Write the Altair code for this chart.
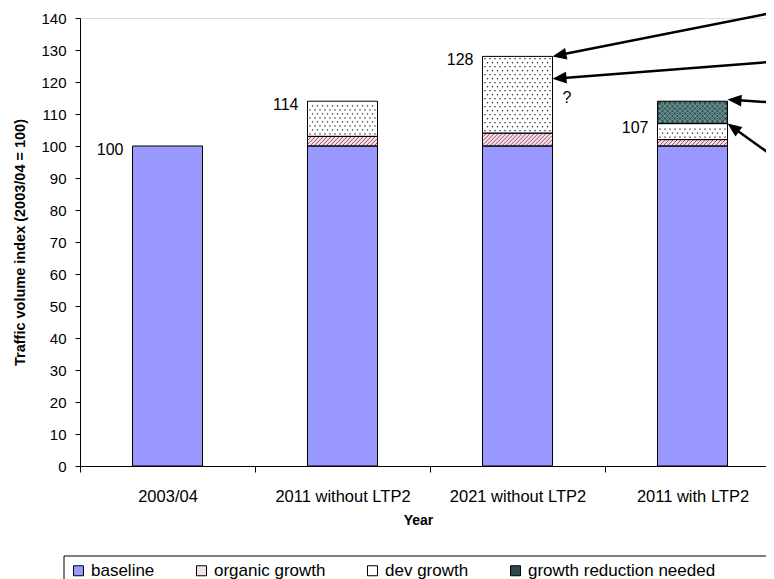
import json
import math
import altair as alt
import pandas as pd

# ---------------- data ----------------
categories = ["2003/04", "2011 without LTP2", "2021 without LTP2", "2011 with LTP2"]
series = ["baseline", "organic growth", "dev growth", "growth reduction needed"]
baseline = [100, 100, 100, 100]
organic_growth = [0, 3, 4, 2]
dev_growth = [0, 11, 24, 5]
growth_reduction = [0, 0, 0, 7]
total_labels = ["100", "114", "128", "107"]
label_values = [100, 114, 128, 107]
y_ticks = list(range(0, 141, 10))

# annotation arrows: bar they point at, value at tip, value where they enter from the right
arrow_bar = [2, 2, 3, 3]
arrow_tip = [128, 121, 114.5, 107]
arrow_start = [143.4, 127, 113, 90.6]
question_bar = 2
question_value = 115

# ---------------- layout ----------------
FONT = "Liberation Sans"
PX_CAT = 175.0
W, H = 686, 448
YMAX = 140
PX_Y = H / YMAX
XMAX = W / PX_CAT
HALF = 0.2
ARROW_X0 = 4.12

colors = ["#9999FF", "#F6E4EC", "#FFFFFF", "#2E4A4A"]

# stacked segments
rows = []
for i, cat in enumerate(categories):
    cum = 0
    for s, vals in zip(series, [baseline, organic_growth, dev_growth, growth_reduction]):
        v = vals[i]
        if v > 0:
            rows.append(dict(category=cat, series=s, x0=i + 0.5 - HALF, x1=i + 0.5 + HALF,
                             y0=cum, y1=cum + v))
            cum += v
seg = pd.DataFrame(rows)

# textures (derived from segment extents)
dots, rings, hatch = [], [], []
for r in rows:
    X0, X1 = r["x0"] * PX_CAT, r["x1"] * PX_CAT
    Y0, Y1 = r["y0"] * PX_Y, r["y1"] * PX_Y
    if r["series"] == "dev growth":
        k = 0
        y = Y0 + 2.5
        while y < Y1 - 1.5:
            x = X0 + 2.5 + (2.5 if k % 2 else 0)
            while x < X1 - 1.5:
                dots.append(dict(x=x / PX_CAT, y=y / PX_Y))
                x += 5
            y += 4
            k += 1
    elif r["series"] == "growth reduction needed":
        k = 0
        y = Y0 + 2.5
        while y < Y1 - 1.5:
            x = X0 + 2.5 + (2.5 if k % 2 else 0)
            while x < X1 - 1.5:
                rings.append(dict(x=x / PX_CAT, y=y / PX_Y))
                x += 5
            y += 2.5
            k += 1
    elif r["series"] == "organic growth":
        c = X0 - Y1
        while c < X1 - Y0:
            ylo = max(Y0 + 0.5, X0 + 0.5 - c)
            yhi = min(Y1 - 0.5, X1 - 0.5 - c)
            if yhi > ylo:
                hatch.append(dict(x=(ylo + c) / PX_CAT, y=ylo / PX_Y,
                                  x2=(yhi + c) / PX_CAT, y2=yhi / PX_Y))
            c += 4
dots = pd.DataFrame(dots)
rings = pd.DataFrame(rings)
hatch = pd.DataFrame(hatch)

# arrows
arr = []
for b, tv, sv in zip(arrow_bar, arrow_tip, arrow_start):
    tx, ty = (b + 0.5 + HALF) * PX_CAT, H - tv * PX_Y
    sx, sy = ARROW_X0 * PX_CAT, H - sv * PX_Y
    d = math.atan2(ty - sy, tx - sx)
    ang = (math.degrees(d) - 180) % 360
    ex, ey = tx - 8 * math.cos(d), ty - 8 * math.sin(d)
    arr.append(dict(tx=tx / PX_CAT, ty=tv, sx=ARROW_X0, sy=sv,
                    ex=ex / PX_CAT, ey=(H - ey) / PX_Y, angle=ang))
arr = pd.DataFrame(arr)

labels = pd.DataFrame(dict(x=[i + 0.5 - HALF for i in range(len(categories))],
                           y=label_values, text=total_labels))
qmark = pd.DataFrame(dict(x=[question_bar + 0.5 + HALF], y=[question_value], text=["?"]))

# ---------------- scales / axes ----------------
xscale = alt.Scale(domain=[0, XMAX], nice=False, zero=False)
yscale = alt.Scale(domain=[0, YMAX], nice=False)

cat_js = json.dumps(categories)
xaxis = alt.Axis(
    values=[k * 0.5 for k in range(8)],
    labelExpr=f"(datum.value % 1) == 0.5 ? {cat_js}[floor(datum.value)] : ''",
    tickColor={"condition": {"test": "(datum.value % 1) == 0", "value": "black"}, "value": "transparent"},
    tickSize=6, labelPadding=16, labelFontSize=16.5, labelFont=FONT, labelColor="black",
    labelOverlap=False, labelFlush=False, labelLimit=0, grid=False, domainColor="black",
    title="Year", titleFont=FONT, titleFontSize=14, titleFontWeight="bold", titleColor="black",
    titlePadding=9, titleX=338,
)
yaxis = alt.Axis(
    values=y_ticks, tickCount=len(y_ticks), tickSize=5, tickColor="black", domainColor="black",
    labelPadding=9, labelFontSize=15, labelFont=FONT, labelColor="black", grid=False,
    labelOverlap=False,
    title="Traffic volume index (2003/04 = 100)", titleFont=FONT, titleFontSize=14.5,
    titleFontWeight="bold", titleColor="black", titlePadding=13,
)


def qx(f):
    return alt.X(f, scale=xscale, axis=xaxis)


def qy(f):
    return alt.Y(f, scale=yscale, axis=yaxis)


fill_bars = alt.Chart(seg).mark_rect().encode(
    x=qx("x0:Q"),
    x2="x1:Q",
    y=qy("y0:Q"),
    y2="y1:Q",
    color=alt.Color("series:N", scale=alt.Scale(domain=series, range=colors),
                    legend=alt.Legend(orient="none", legendX=-16, legendY=538,
                                      direction="horizontal", columns=4, title=None,
                                      symbolType="square", symbolSize=100,
                                      symbolStrokeColor="black", symbolStrokeWidth=1,
                                      labelFontSize=17, labelFont=FONT, labelColor="black",
                                      labelLimit=0, padding=6, columnPadding=38)),
)

hatch_layer = alt.Chart(hatch).mark_rule(color="#A3456F", strokeWidth=1).encode(
    x=qx("x:Q"), y=qy("y:Q"), x2="x2:Q", y2="y2:Q")
dot_layer = alt.Chart(dots).mark_square(size=1.6, color="#222222", opacity=1).encode(
    x=qx("x:Q"), y=qy("y:Q"))
ring_layer = alt.Chart(rings).mark_point(size=5, color="#8FC4C4", strokeWidth=0.8, opacity=1).encode(
    x=qx("x:Q"), y=qy("y:Q"))

outline = alt.Chart(seg).mark_rect(fillOpacity=0, stroke="black", strokeWidth=1).encode(
    x=qx("x0:Q"), x2="x1:Q", y=qy("y0:Q"), y2="y1:Q")

text_layer = alt.Chart(labels).mark_text(align="right", baseline="middle", dx=-9, dy=4,
                                         fontSize=16, font=FONT, color="black").encode(
    x=qx("x:Q"), y=qy("y:Q"), text="text:N")
q_layer = alt.Chart(qmark).mark_text(align="left", baseline="middle", dx=10,
                                     fontSize=16, font=FONT, color="black").encode(
    x=qx("x:Q"), y=qy("y:Q"), text="text:N")

arrow_lines = alt.Chart(arr).mark_rule(color="black", strokeWidth=2.5).encode(
    x=qx("sx:Q"), y=qy("sy:Q"), x2="ex:Q", y2="ey:Q")
arrow_heads = alt.Chart(arr).mark_point(shape="M0,0L1,-0.42L1,0.42Z", filled=True, size=784,
                                        color="black", opacity=1, strokeWidth=0).encode(
    x=qx("tx:Q"), y=qy("ty:Q"), angle=alt.Angle("angle:Q", scale=None))

# legend frame (runs off the right and bottom edges as in the original)
frame = alt.Chart(pd.DataFrame({"k": [0]})).mark_rect(
    fillOpacity=0, stroke="black", strokeWidth=1).encode(
    x=alt.value(-16), x2=alt.value(W + 40), y=alt.value(538), y2=alt.value(H + 200))

chart = alt.layer(fill_bars, hatch_layer, dot_layer, ring_layer, outline, text_layer, q_layer,
                  arrow_lines, arrow_heads, frame).properties(
    width=W, height=H,
    autosize=alt.AutoSizeParams(type="none"),
    padding={"left": 72, "top": 10, "right": 0, "bottom": 113},
    background="white",
).configure_view(stroke=None).configure(font=FONT)

chart.save("out.html", embed_options={"renderer": "svg", "actions": False})
